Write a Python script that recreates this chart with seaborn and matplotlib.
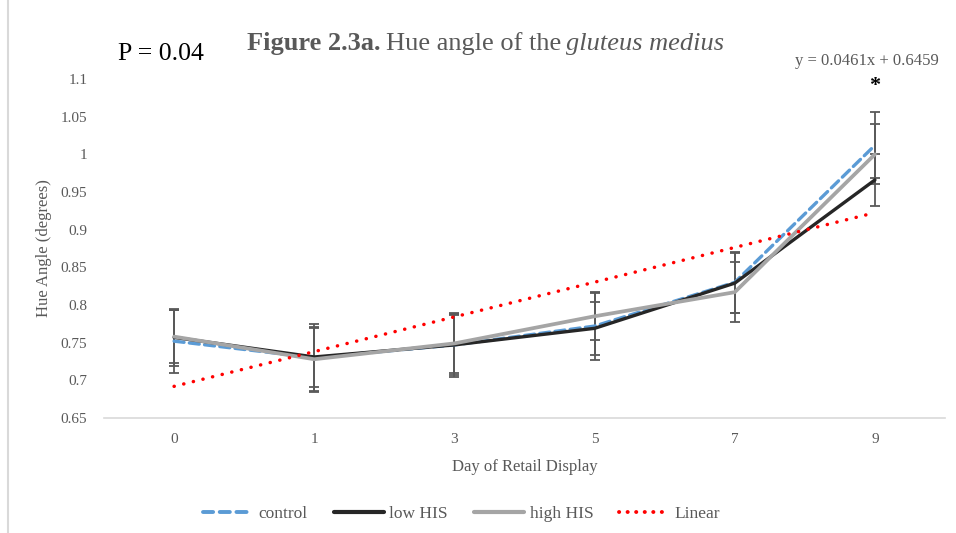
import numpy as np
import pandas as pd
import matplotlib
matplotlib.use("Agg")
import matplotlib.pyplot as plt
from matplotlib.lines import Line2D
import seaborn as sns

# Data: hue angle of the gluteus medius over retail display
days = ["0", "1", "3", "5", "7", "9"]
control = [0.752, 0.730, 0.747, 0.772, 0.830, 1.012]
low_his = [0.757, 0.731, 0.747, 0.769, 0.829, 0.966]
high_his = [0.758, 0.728, 0.749, 0.785, 0.817, 1.000]
control_se = [0.042, 0.045, 0.043, 0.045, 0.040, 0.044]
low_se = [0.038, 0.040, 0.040, 0.035, 0.040, 0.035]
high_se = [0.035, 0.042, 0.039, 0.031, 0.040, 0.040]
trend_slope = 0.0461
trend_intercept = 0.6459
p_text = "P = 0.04"

sns.set_theme(style="white")
plt.rcParams["font.family"] = ["Liberation Serif", "DejaVu Serif"]

series = {"control": (control, control_se),
          "low HIS": (low_his, low_se),
          "high HIS": (high_his, high_se)}
colors = {"control": "#5B9BD5", "low HIS": "#262626", "high HIS": "#A5A5A5"}

pos = np.arange(len(days))
rows = []
for name, (vals, se) in series.items():
    for i, (v, e) in enumerate(zip(vals, se)):
        rows.append({"pos": i, "day": days[i], "value": v, "se": e, "group": name})
df = pd.DataFrame(rows)

fig = plt.figure(figsize=(9.56, 5.33), dpi=100)
ax = fig.add_axes([0.1088, 0.2158, 0.8797, 0.636])

# error bars drawn first, lines on top
for name in series:
    sub = df[df.group == name]
    ax.errorbar(sub["pos"], sub["value"], yerr=sub["se"], fmt="none",
                ecolor="#595959", elinewidth=1.3, capsize=3.5, capthick=1.3, zorder=2)

sns.lineplot(data=df, x="pos", y="value", hue="group", style="group",
             palette=colors, dashes={"control": (3, 1.6), "low HIS": "", "high HIS": ""},
             linewidth=2.4, ax=ax, legend=False, zorder=3)
for ln in ax.get_lines():
    ln.set_dash_capstyle("round")
    ln.set_solid_capstyle("round")
    ln.set_solid_joinstyle("round")
    if matplotlib.colors.to_hex(ln.get_color()).lower() == "#a5a5a5":
        ln.set_linewidth(2.7)

# linear trendline of the control group
trend = trend_slope * (pos + 1) + trend_intercept
tdf = pd.DataFrame({"pos": pos, "value": trend})
sns.lineplot(data=tdf, x="pos", y="value", color="#FF0000", linewidth=2.5,
             ax=ax, legend=False, zorder=4)
tl = ax.get_lines()[-1]
tl.set_linestyle((0, (0.05, 2.8)))
tl.set_dash_capstyle("round")

ax.set_xlim(-0.5, len(days) - 0.5)
ax.set_ylim(0.65, 1.1)
ax.set_xticks(pos)
ax.set_xticklabels(days)
ax.set_yticks(np.round(np.arange(0.65, 1.1001, 0.05), 2))
ax.set_yticklabels(["0.65", "0.7", "0.75", "0.8", "0.85", "0.9", "0.95", "1", "1.05", "1.1"])
ax.tick_params(axis="both", labelsize=11, labelcolor="#595959", length=0)
ax.tick_params(axis="x", pad=11)
ax.tick_params(axis="y", pad=12)
for s in ["top", "right", "left"]:
    ax.spines[s].set_visible(False)
ax.spines["bottom"].set_color("#D9D9D9")
ax.spines["bottom"].set_linewidth(1.2)
ax.grid(False)
ax.set_xlabel("Day of Retail Display", fontsize=12, color="#595959", labelpad=9)
ax.set_ylabel("Hue Angle (degrees)", fontsize=12, color="#595959", labelpad=6.5)

# trendline equation and significance marker
ax.text(4.94, 1.113, "y = 0.0461x + 0.6459", ha="center", va="bottom",
        fontsize=12, color="#595959")
ax.text(5, 1.091, "*", ha="center", va="center", fontsize=16,
        fontweight="bold", color="#000000")

# title with bold / italic parts, placed piece by piece
renderer = fig.canvas.get_renderer()
x0, ybase = 247 / 956, 0.906
parts = [("Figure 2.3a.", dict(fontweight="bold")),
         ("Hue angle of the", dict()),
         ("gluteus medius", dict(style="italic"))]
space = 5 / 956
for txt, kw in parts:
    t = fig.text(x0, ybase, txt, fontsize=19, color="#595959",
                 ha="left", va="baseline", **kw)
    bb = t.get_window_extent(renderer=renderer)
    x0 += bb.width / fig.bbox.width + space

fig.text(0.123, 0.888, p_text, fontsize=18.5, color="#000000",
         ha="left", va="baseline")

handles = [
    Line2D([], [], color=colors["control"], lw=2.8, linestyle=(0, (2.6, 1.7)),
           dash_capstyle="round"),
    Line2D([], [], color=colors["low HIS"], lw=3.0, solid_capstyle="round"),
    Line2D([], [], color=colors["high HIS"], lw=3.0, solid_capstyle="round"),
    Line2D([], [], color="#FF0000", lw=2.8, linestyle=(0, (0.05, 2.15)),
           dash_capstyle="round"),
]
leg = fig.legend(handles, ["control", "low HIS", "high HIS", "Linear"],
                 loc="center", bbox_to_anchor=(0.483, 0.036), ncol=4, frameon=False,
                 fontsize=12.5, handlelength=2.9, handletextpad=0.3, columnspacing=1.5)
for t in leg.get_texts():
    t.set_color("#595959")

# outer chart border
fig.add_artist(Line2D([0.0085, 0.0085], [0.0, 1.0], color="#D9D9D9", lw=1.5,
                      transform=fig.transFigure))

fig.savefig("out.png", dpi=100, facecolor="white")
